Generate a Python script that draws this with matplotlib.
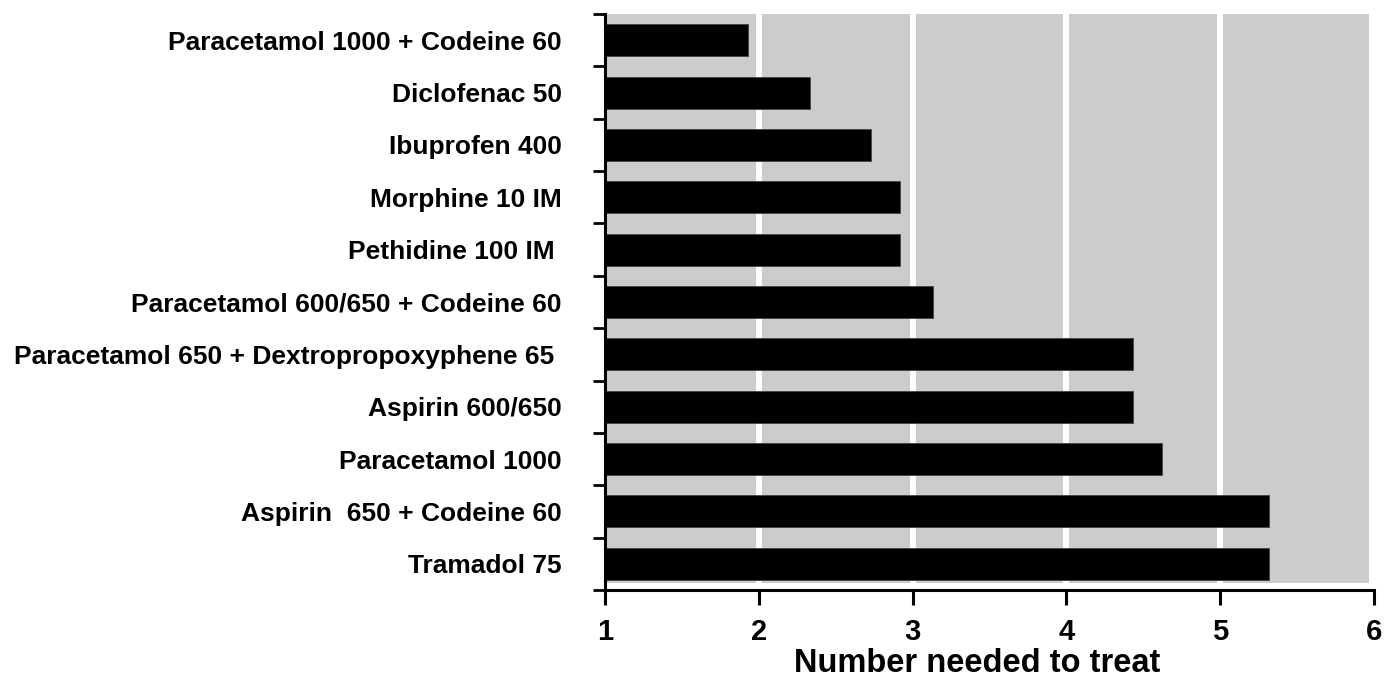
import matplotlib
matplotlib.use("Agg")
import matplotlib.pyplot as plt
from matplotlib.patches import Rectangle
import numpy as np

drugs = [
    "Paracetamol 1000 + Codeine 60",
    "Diclofenac 50",
    "Ibuprofen 400",
    "Morphine 10 IM",
    "Pethidine 100 IM ",
    "Paracetamol 600/650 + Codeine 60",
    "Paracetamol 650 + Dextropropoxyphene 65 ",
    "Aspirin 600/650",
    "Paracetamol 1000",
    "Aspirin  650 + Codeine 60",
    "Tramadol 75",
]
nnt = [1.93, 2.33, 2.73, 2.92, 2.92, 3.13, 4.43, 4.43, 4.62, 5.32, 5.32]
xticks = [1, 2, 3, 4, 5, 6]
xlabel = "Number needed to treat"

plt.rcParams['font.family'] = ['Liberation Sans', 'DejaVu Sans']
plt.rcParams['font.weight'] = 'bold'

fig = plt.figure(figsize=(13.98, 6.79), dpi=100)
ax = fig.add_axes([605/1398, 1-590/679, (1374-605)/1398, (590-14)/679])

n = len(drugs)
y = np.arange(n)
ax.set_xlim(1, 6)
ax.set_ylim(n - 0.5, -0.5)

ax.add_patch(Rectangle((1, -0.5), 4.97, n - 0.13, facecolor='#cccccc',
                       edgecolor='none', zorder=0))
for g in [2, 3, 4, 5]:
    ax.plot([g, g], [-0.5, n - 0.63], color='white', lw=4.3, zorder=1,
            solid_capstyle='butt')

ax.barh(y, nnt, height=0.61, color='black', edgecolor='#444444', lw=0.6, zorder=2)

for s in ['top', 'right']:
    ax.spines[s].set_visible(False)
for s in ['left', 'bottom']:
    ax.spines[s].set_linewidth(2.2)

ax.set_yticks(y)
ax.set_yticklabels(drugs, fontsize=19, fontweight='bold')
ax.tick_params(axis='y', which='major', length=0, pad=31)
ax.set_yticks(np.arange(-0.5, n, 1.0), minor=True)
ax.tick_params(axis='y', which='minor', length=9, width=2)

ax.set_xticks(xticks)
ax.set_xticklabels([str(t) for t in xticks], fontsize=21, fontweight='bold')
ax.tick_params(axis='x', length=11, width=2.2, pad=9)
fig.text(977/1398, 0.3/679, xlabel, ha='center', va='bottom',
         fontsize=23.5, fontweight='bold')

fig.savefig("out.png", dpi=100)
